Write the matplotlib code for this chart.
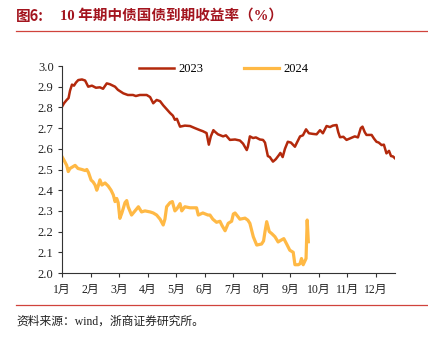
import matplotlib
matplotlib.use("Agg")
import matplotlib.pyplot as plt
from matplotlib.lines import Line2D

# time in months since 1 Jan (0 = Jan 1, 1 = Feb 1, ...)
t23 = [0.00, 0.07, 0.165, 0.23, 0.28, 0.35, 0.42, 0.49, 0.57, 0.70, 0.81, 0.92,
       1.05, 1.19, 1.33, 1.44, 1.57, 1.68, 1.86, 1.96, 2.15, 2.31, 2.49, 2.59,
       2.73, 2.97, 3.09, 3.20, 3.32, 3.44, 3.55, 3.68, 3.79, 3.89, 3.96, 4.03,
       4.14, 4.31, 4.49, 4.66, 4.84, 4.94, 5.07, 5.15, 5.22, 5.31, 5.36, 5.47,
       5.65, 5.75, 5.89, 6.07, 6.24, 6.35, 6.48, 6.52, 6.59, 6.70, 6.80, 6.94,
       7.05, 7.12, 7.22, 7.29, 7.40, 7.50, 7.61, 7.66, 7.74, 7.82, 7.92, 8.03,
       8.17, 8.24, 8.35, 8.45, 8.56, 8.66, 8.80, 8.93, 9.05, 9.15, 9.28, 9.40,
       9.50, 9.63, 9.69, 9.75, 9.87, 9.98, 10.10, 10.20, 10.27, 10.38, 10.48,
       10.54, 10.62, 10.68, 10.86, 10.94, 11.03, 11.11, 11.21, 11.29, 11.38,
       11.47, 11.54, 11.61, 11.68]
y23 = [2.803, 2.82, 2.836, 2.845, 2.88, 2.91, 2.905, 2.92, 2.932, 2.935, 2.93, 2.90,
       2.905, 2.895, 2.897, 2.89, 2.916, 2.912, 2.90, 2.885, 2.868, 2.86, 2.86, 2.855,
       2.86, 2.86, 2.85, 2.82, 2.836, 2.83, 2.81, 2.79, 2.773, 2.76, 2.74, 2.745,
       2.707, 2.712, 2.71, 2.70, 2.69, 2.685, 2.676, 2.62, 2.66, 2.69, 2.683, 2.67,
       2.66, 2.665, 2.643, 2.645, 2.64, 2.625, 2.594, 2.61, 2.66, 2.652, 2.655, 2.645,
       2.643, 2.63, 2.565, 2.56, 2.538, 2.55, 2.57, 2.58, 2.56, 2.60, 2.634, 2.63,
       2.61, 2.63, 2.66, 2.665, 2.694, 2.675, 2.672, 2.67, 2.69, 2.675, 2.71, 2.705,
       2.712, 2.715, 2.68, 2.656, 2.658, 2.643, 2.65, 2.656, 2.66, 2.655, 2.70,
       2.707, 2.68, 2.667, 2.667, 2.65, 2.634, 2.63, 2.618, 2.62, 2.578,
       2.59, 2.565, 2.563, 2.554]

t24 = [0.00, 0.07, 0.165, 0.22, 0.28, 0.34, 0.46, 0.56, 0.70, 0.81, 0.87, 0.93,
       1.02, 1.09, 1.16, 1.22, 1.27, 1.33, 1.40, 1.51, 1.62, 1.72, 1.80, 1.86,
       1.92, 1.97, 2.03, 2.10, 2.21, 2.27, 2.32, 2.44, 2.56, 2.68, 2.79, 2.91,
       3.09, 3.20, 3.32, 3.44, 3.55, 3.61, 3.67, 3.79, 3.87, 3.96, 4.03, 4.14,
       4.20, 4.31, 4.49, 4.72, 4.78, 4.94, 5.12, 5.19, 5.29, 5.42, 5.54, 5.61,
       5.72, 5.83, 5.95, 6.01, 6.07, 6.24, 6.42, 6.52, 6.59, 6.71, 6.83, 7.00,
       7.07, 7.12, 7.18, 7.27, 7.36, 7.47, 7.58, 7.70, 7.78, 7.88, 7.99, 8.11,
       8.17, 8.29, 8.35, 8.40, 8.46, 8.56, 8.60, 8.64]
y24 = [2.562, 2.545, 2.52, 2.49, 2.505, 2.51, 2.52, 2.505, 2.50, 2.495, 2.50, 2.485,
       2.449, 2.44, 2.425, 2.40, 2.42, 2.45, 2.425, 2.435, 2.42, 2.40, 2.377, 2.345,
       2.36, 2.34, 2.264, 2.29, 2.34, 2.35, 2.32, 2.28, 2.30, 2.32, 2.295, 2.30,
       2.295, 2.29, 2.28, 2.26, 2.232, 2.26, 2.32, 2.34, 2.345, 2.30, 2.31, 2.335,
       2.30, 2.32, 2.315, 2.315, 2.28, 2.29, 2.28, 2.28, 2.26, 2.245, 2.25, 2.23,
       2.204, 2.24, 2.25, 2.285, 2.29, 2.26, 2.265, 2.255, 2.24, 2.175, 2.135, 2.14,
       2.155, 2.20, 2.248, 2.20, 2.19, 2.175, 2.15, 2.16, 2.166, 2.14, 2.11, 2.10,
       2.04, 2.04, 2.045, 2.07, 2.04, 2.07, 2.256, 2.151]

month_labels = [f"{i}月" for i in range(1, 13)]
y_ticks = [2.0, 2.1, 2.2, 2.3, 2.4, 2.5, 2.6, 2.7, 2.8, 2.9, 3.0]
series_names = ["2023", "2024"]

c23 = "#B3290C"
c24 = "#FFB945"
title_red = "#A3141E"
rule_red = "#D0433C"
fam = ["Liberation Serif", "Noto Sans CJK SC", "DejaVu Sans"]
cjk = ["Noto Sans CJK SC", "DejaVu Sans"]

fig = plt.figure(figsize=(4.28, 3.40), dpi=100)
ax = fig.add_axes([62/428, 1-273/340, (395-62)/428, (273-66)/340])

ax.plot(t23, y23, color=c23, lw=1.8, solid_joinstyle="round")
ax.plot(t24, y24, color=c24, lw=2.3, solid_joinstyle="round")

ax.set_xlim(0, 11.68)
ax.set_ylim(2.0, 3.0)
ax.set_yticks(y_ticks)
ax.set_yticklabels([f"{v:.1f}" for v in y_ticks], family=fam, fontsize=9)
ax.set_xticks(range(12))
ax.set_xticklabels(month_labels, family=fam, fontsize=8.5)
for s in ["top", "right"]:
    ax.spines[s].set_visible(False)
for s in ["left", "bottom"]:
    ax.spines[s].set_color("#333333")
    ax.spines[s].set_linewidth(0.8)
ax.tick_params(axis="both", direction="out", length=3, width=0.8, color="#333333", labelcolor="#222222")
ax.tick_params(axis="x", pad=5)
ax.tick_params(axis="y", pad=3)

handles = [Line2D([], [], color=c23, lw=1.8), Line2D([], [], color=c24, lw=2.3)]
fig.legend(handles, series_names, loc="center", bbox_to_anchor=(0.523, 1-69/340), ncol=2,
           frameon=False, prop={"family": fam, "size": 9}, handlelength=2.8,
           columnspacing=3.2, handletextpad=0.4)

# title and rules
fig.text(16/428, 1-16/340, "图6:", family=cjk, fontsize=10.5, fontweight="bold", color=title_red, va="center")
fig.text(60/428, 1-16/340, "10 年期中债国债到期收益率（%）", family=fam, fontsize=10.5,
         fontweight="bold", color=title_red, va="center")
fig.add_artist(Line2D([16/428, 1.0], [1-31/340, 1-31/340], color=rule_red, lw=0.9))
fig.add_artist(Line2D([16/428, 1.0], [1-305/340, 1-305/340], color=rule_red, lw=0.9))
fig.text(16/428, 1-322/340, "资料来源：wind，浙商证券研究所。", family=fam, fontsize=8.5,
         color="#222222", va="center")

fig.savefig("out.png", dpi=100)
